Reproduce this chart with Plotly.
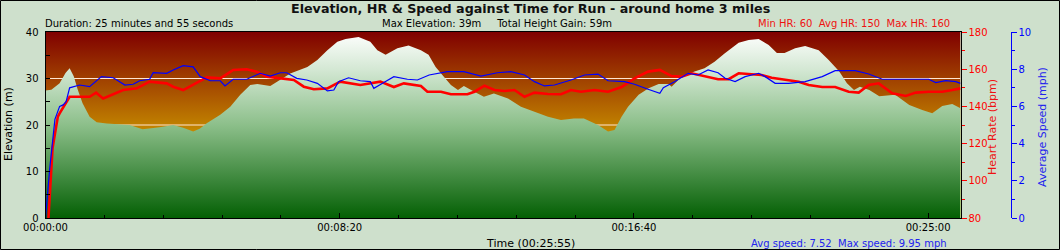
import plotly.graph_objects as go

# ---------------- data ----------------
# elevation (m) vs time (s)
elev_t = [0, 10, 24, 34, 41, 48, 55, 63, 75, 87, 104, 143, 165, 194, 217, 234, 251, 262, 274, 297,
          314, 331, 348, 360, 382, 399, 416, 445, 462, 479, 496, 510, 532, 552, 564, 578, 598, 617,
          638, 651, 663, 677, 689, 701, 711, 728, 745, 762, 786, 808, 830, 854, 876, 898, 915, 939,
          956, 967, 979, 990, 1008, 1025, 1042, 1059, 1064, 1081, 1103, 1120, 1137, 1154, 1178, 1195,
          1212, 1229, 1243, 1256, 1274, 1291, 1314, 1331, 1349, 1362, 1374, 1384, 1400, 1417, 1444,
          1468, 1490, 1507, 1524, 1541, 1555]
elev_m = [27.4, 27.6, 29.0, 31.2, 32.2, 30.5, 27.5, 24.7, 21.8, 20.6, 20.3, 20.0, 19.1, 19.5, 20.0,
          19.4, 18.6, 19.2, 20.4, 22.2, 23.9, 26.5, 28.6, 28.8, 28.4, 29.7, 31.1, 32.5, 34.0, 36.1,
          37.9, 38.5, 38.9, 37.9, 36.1, 35.1, 36.5, 37.1, 36.1, 35.1, 32.5, 30.4, 28.6, 27.5, 28.4,
          27.2, 26.1, 26.8, 25.7, 23.9, 22.9, 21.8, 21.1, 21.4, 21.4, 20.0, 18.6, 18.9, 21.8, 23.9,
          26.5, 27.9, 28.8, 28.8, 28.2, 30.4, 31.5, 32.2, 33.6, 35.4, 37.7, 38.3, 38.5, 37.2, 35.5,
          35.5, 36.5, 37.0, 36.1, 34.0, 31.5, 29.0, 27.5, 28.2, 27.5, 26.2, 26.5, 24.3, 23.2, 22.5,
          24.1, 24.5, 23.6]

# heart rate (bpm) vs time (s)
hr_t = [0, 5, 12, 15, 21, 24, 35, 41, 63, 75, 86, 98, 115, 132, 155, 177, 206, 217, 234, 251, 274,
        297, 319, 342, 359, 376, 399, 422, 439, 456, 479, 496, 501, 535, 569, 592, 609, 638, 649,
        672, 689, 717, 729, 746, 763, 780, 797, 814, 831, 854, 876, 893, 910, 933, 956, 979, 1001,
        1024, 1044, 1064, 1081, 1098, 1121, 1143, 1161, 1178, 1200, 1217, 1234, 1257, 1280, 1297,
        1320, 1342, 1365, 1382, 1399, 1416, 1439, 1462, 1479, 1501, 1524, 1541, 1555]
hr_bpm = [60, 80, 117.6, 123.7, 134.5, 136.3, 141.7, 145.2, 145.2, 145.2, 147.4, 144.3, 146.5, 148.8,
          149.7, 153.3, 152.4, 150.6, 148.8, 151.5, 155.6, 155.1, 159.6, 160.0, 158.7, 156.0, 155.1,
          154.2, 150.6, 149.2, 149.7, 152.4, 153.3, 151.5, 153.3, 150.4, 152.4, 151.0, 147.9, 147.9,
          146.5, 146.5, 147.9, 151.1, 148.8, 148.3, 148.8, 145.2, 147.4, 146.7, 146.5, 148.8, 147.9,
          148.8, 147.9, 150.4, 155.1, 158.7, 159.6, 156.3, 156.0, 157.8, 156.3, 154.6, 154.6, 157.8,
          157.3, 156.9, 155.4, 154.2, 153.3, 151.5, 150.4, 150.4, 147.9, 147.4, 151.5, 152.4, 147.0,
          145.6, 147.4, 147.9, 147.9, 148.8, 149.7]

# average speed (mph) vs time (s)
spd_t = [0, 7, 16, 24, 30, 35, 41, 58, 75, 95, 115, 126, 135, 149, 160, 177, 183, 206, 217, 234, 251,
         263, 280, 297, 305, 319, 342, 365, 382, 399, 410, 427, 444, 462, 479, 490, 498, 515, 535,
         552, 558, 575, 592, 615, 632, 652, 683, 711, 740, 768, 791, 814, 831, 848, 865, 893, 916,
         939, 956, 984, 1001, 1024, 1044, 1050, 1069, 1092, 1109, 1126, 1143, 1155, 1172, 1189, 1212,
         1223, 1240, 1263, 1291, 1320, 1342, 1376, 1399, 1422, 1462, 1501, 1513, 1530, 1547, 1555]
spd_mph = [0, 2.6, 5.3, 6.0, 6.08, 6.25, 7.0, 7.15, 7.06, 7.6, 7.54, 7.33, 7.15, 7.19, 7.38, 7.46,
           7.81, 7.78, 7.96, 8.19, 8.13, 7.6, 7.38, 7.38, 7.1, 7.46, 7.46, 7.78, 7.63, 7.81, 7.81,
           7.51, 7.42, 7.24, 6.83, 6.88, 7.33, 7.54, 7.38, 7.33, 6.97, 7.28, 7.6, 7.46, 7.42, 7.69,
           7.87, 7.87, 7.63, 7.81, 7.87, 7.69, 7.33, 7.1, 7.15, 7.42, 7.69, 7.74, 7.38, 7.33, 7.19,
           6.92, 6.7, 7.0, 7.33, 7.78, 7.69, 7.96, 7.81, 7.51, 7.33, 7.6, 7.78, 7.6, 7.24, 7.24, 7.33,
           7.6, 7.92, 7.92, 7.74, 7.46, 7.46, 7.46, 7.28, 7.38, 7.33, 7.24]

duration_s = 1555
time_tickvals = [0, 500, 1000, 1500]
time_ticktext = ["00:00:00", "00:08:20", "00:16:40", "00:25:00"]
elev_grid = [10, 20, 30]

title_text = "Elevation, HR & Speed against Time for Run - around home 3 miles"
duration_text = "Duration: 25 minutes and 55 seconds"
elev_text = "Max Elevation: 39m\u00a0\u00a0\u00a0\u00a0\u00a0Total Height Gain: 59m"
hr_text = "Min HR: 60\u00a0\u00a0Avg HR: 150\u00a0\u00a0Max HR: 160"
speed_text = "Avg speed: 7.52\u00a0\u00a0Max speed: 9.95 mph"
time_title = "Time (00:25:55)"

# ---------------- layout helpers ----------------
W, H = 1060, 250
PL, PR, PT, PB = 45.5, 960.5, 32, 218


def px(x):
    return x / W


def py(y):
    return 1 - y / H


FONT = "DejaVu Sans"
RED = "#ff0000"
BLUE = "#0000ff"
TXT_RED = "#ee1111"
TXT_BLUE = "#2222ee"

fig = go.Figure()

# background gradient (dark red -> yellow)
fig.add_trace(go.Scatter(
    x=[0, duration_s], y=[40, 40], mode="lines", line=dict(width=0),
    fill="tozeroy",
    fillgradient=dict(type="vertical", colorscale=[[0, "#ffff00"], [1, "#800000"]], start=0, stop=40),
    hoverinfo="skip", showlegend=False))

# gridlines
gx, gy = [], []
for g in elev_grid:
    gx += [0, duration_s, None]
    gy += [g, g, None]
fig.add_trace(go.Scatter(x=gx, y=gy, mode="lines", line=dict(color="#ffe6d2", width=1.2),
                         hoverinfo="skip", showlegend=False))

# elevation
fig.add_trace(go.Scatter(
    x=elev_t, y=elev_m, mode="lines", line=dict(width=0),
    fill="tozeroy",
    fillgradient=dict(type="vertical",
                      colorscale=[[0, "#046004"], [0.5, "#8cbf8a"], [0.8, "#d4e8d4"], [1, "#ffffff"]],
                      start=0, stop=40),
    hoverinfo="skip", showlegend=False))

# heart rate
fig.add_trace(go.Scatter(x=hr_t, y=hr_bpm, mode="lines", yaxis="y2",
                         line=dict(color=RED, width=2.6), showlegend=False))
# speed
fig.add_trace(go.Scatter(x=spd_t, y=spd_mph, mode="lines", yaxis="y3",
                         line=dict(color=BLUE, width=1.2), showlegend=False))

tick_font = dict(family=FONT, size=10, color="black")

fig.update_layout(
    width=W, height=H,
    margin=dict(l=0, r=0, t=0, b=0, autoexpand=False),
    paper_bgcolor="#cee0cc",
    plot_bgcolor="#cee0cc",
    font=dict(family=FONT, size=10, color="black"),
    showlegend=False,
    hovermode=False,
    xaxis=dict(
        domain=[px(PL), px(PR)], range=[0, duration_s], automargin=False,
        tickvals=time_tickvals, ticktext=time_ticktext,
        ticks="inside", ticklen=5, tickcolor="black",
        minor=dict(dtick=100, tick0=0, ticks="inside", ticklen=3, tickcolor="black", showgrid=False),
        showgrid=False, zeroline=False,
        showline=True, linecolor="black", linewidth=1, mirror=True,
        tickfont=tick_font,
    ),
    yaxis=dict(
        domain=[py(PB), py(PT)], range=[0, 40], dtick=10, automargin=False,
        ticks="inside", ticklen=4, tickcolor="black",
        minor=dict(dtick=5, ticks="inside", ticklen=4, tickcolor="black", showgrid=False),
        showgrid=False, zeroline=False,
        showline=True, linecolor="black", linewidth=1, mirror=True,
        tickfont=tick_font, ticklabelstandoff=4,
    ),
    yaxis2=dict(
        overlaying="y", anchor="free", position=px(PR), side="right", automargin=False,
        range=[80, 180], dtick=20,
        ticks="outside", ticklen=5, tickcolor=RED,
        minor=dict(dtick=10, ticks="outside", ticklen=3, tickcolor=RED, showgrid=False),
        showgrid=False, zeroline=False, showline=False,
        tickfont=dict(family=FONT, size=10, color=RED),
    ),
    yaxis3=dict(
        overlaying="y", anchor="free", position=px(1010.5), side="right", automargin=False,
        range=[0, 10], dtick=2,
        ticks="outside", ticklen=5, tickcolor=BLUE,
        minor=dict(dtick=1, ticks="outside", ticklen=3, tickcolor=BLUE, showgrid=False),
        showgrid=False, zeroline=False,
        showline=True, linecolor=BLUE, linewidth=1,
        tickfont=dict(family=FONT, size=10, color=BLUE),
    ),
)

ann = [
    dict(text="<b>" + title_text + "</b>", x=px(530), y=py(8), xanchor="center", yanchor="middle",
         font=dict(family=FONT, size=12.7, color="#111111")),
    dict(text=duration_text, x=px(43), y=py(24), xanchor="left", yanchor="middle",
         font=dict(family=FONT, size=10, color="black")),
    dict(text=elev_text, x=px(380), y=py(24), xanchor="left", yanchor="middle",
         font=dict(family=FONT, size=10, color="black")),
    dict(text=hr_text, x=px(952), y=py(24), xanchor="right", yanchor="middle",
         font=dict(family=FONT, size=10, color=TXT_RED)),
    dict(text=time_title, x=px(530), y=py(243), xanchor="center", yanchor="middle",
         font=dict(family=FONT, size=11, color="black")),
    dict(text=speed_text, x=px(949), y=py(243), xanchor="right", yanchor="middle",
         font=dict(family=FONT, size=10, color=TXT_BLUE)),
    dict(text="Elevation (m)", x=px(8), y=py(124), xanchor="center", yanchor="middle", textangle=-90,
         font=dict(family=FONT, size=11, color="black")),
    dict(text="Heart Rate (bpm)", x=px(992), y=py(127), xanchor="center", yanchor="middle", textangle=-90,
         font=dict(family=FONT, size=11, color=TXT_RED)),
    dict(text="Average Speed (mph)", x=px(1042), y=py(127), xanchor="center", yanchor="middle",
         textangle=-90, font=dict(family=FONT, size=11, color=TXT_BLUE)),
]
for a in ann:
    a.update(xref="paper", yref="paper", showarrow=False)
fig.update_layout(annotations=ann)

# outer border
fig.add_shape(type="rect", xref="paper", yref="paper",
              x0=px(0.5), x1=px(W - 0.5), y0=py(H - 0.5), y1=py(0.5),
              line=dict(color="black", width=1), layer="above")

fig.write_html("out.html")
